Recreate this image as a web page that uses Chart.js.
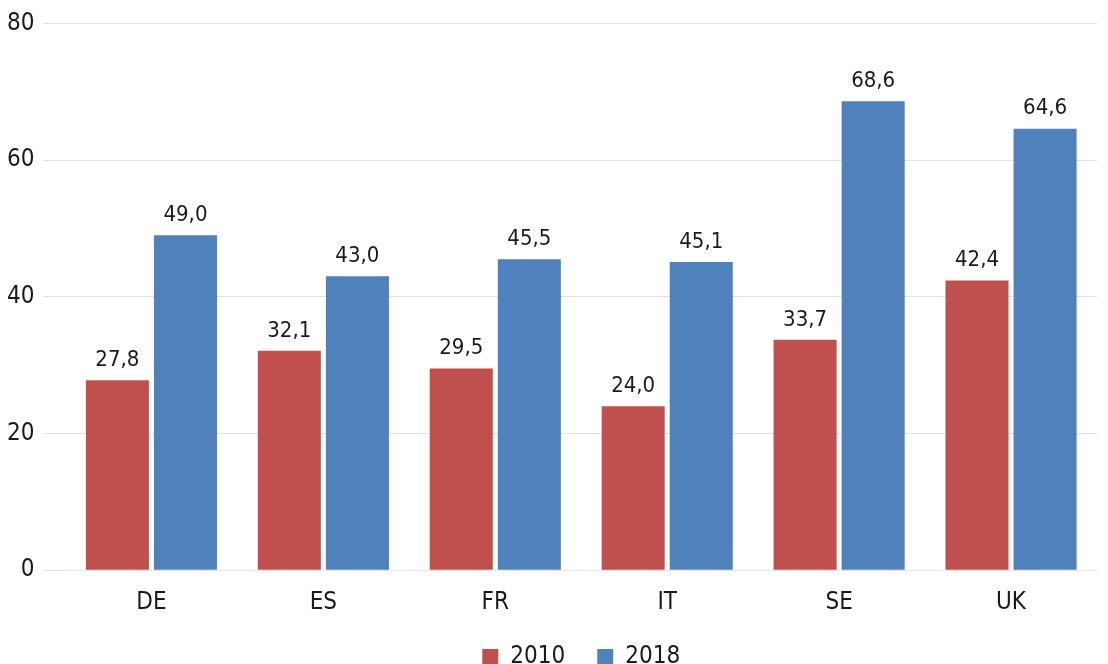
<!DOCTYPE html>
<html>
<head>
<meta charset="utf-8">
<script src="https://cdn.jsdelivr.net/npm/chart.js@4"></script>
<style>
  html, body { margin: 0; padding: 0; background: #fff; }
  #wrap { width: 1108px; height: 664px; }
</style>
</head>
<body>
<div id="wrap"><canvas id="canvas"></canvas></div>
<script>
const countries = ['DE', 'ES', 'FR', 'IT', 'SE', 'UK'];
const values2010 = [27.8, 32.1, 29.5, 24.0, 33.7, 42.4];
const values2018 = [49.0, 43.0, 45.5, 45.1, 68.6, 64.6];
const yTicks = [0, 20, 40, 60, 80];

const fontFamily = '"Liberation Sans Narrow", "DejaVu Sans Condensed", "Roboto", sans-serif';

// labels above each bar, comma decimals
const valueLabels = {
    id: 'valueLabels',
    afterDatasetsDraw(chart) {
        const ctx = chart.ctx;
        ctx.save();
        ctx.font = '22px ' + fontFamily;
        ctx.fillStyle = '#1a1a1a';
        ctx.textAlign = 'center';
        ctx.textBaseline = 'bottom';
        chart.data.datasets.forEach((ds, i) => {
            chart.getDatasetMeta(i).data.forEach((bar, j) => {
                ctx.fillText(ds.data[j].toFixed(1).replace('.', ','), bar.x, bar.y - 9);
            });
        });
        ctx.restore();
    }
};

var ctx = document.getElementById('canvas').getContext('2d');
window.myBar = new Chart(ctx, {
    type: 'bar',
    data: {
        labels: countries,
        datasets: [{
            label: '2010',
            backgroundColor: '#c0504d',
            data: values2010
        },
        {
            label: '2018',
            backgroundColor: '#4f81bd',
            data: values2018
        }]
    },
    options: {
        responsive: true,
        maintainAspectRatio: false,
        animation: false,
        datasets: {
            bar: { categoryPercentage: 0.792, barPercentage: 0.926 }
        },
        layout: { padding: { top: 18, right: 11, left: -2, bottom: -15 } },
        plugins: {
            legend: {
                position: 'bottom',
                fullSize: false,
                labels: {
                    font: { family: fontFamily, size: 24 },
                    color: '#1a1a1a',
                    boxWidth: 16,
                    boxHeight: 16,
                    padding: 32
                }
            },
            tooltip: { enabled: false }
        },
        scales: {
            x: {
                grid: { display: false },
                border: { color: '#e6e6e6' },
                afterFit: axis => { axis.height -= 14; },
                ticks: {
                    font: { family: fontFamily, size: 24 },
                    color: '#1a1a1a',
                    padding: 10
                }
            },
            y: {
                min: 0,
                max: 80,
                border: { display: false },
                grid: { color: '#e0e0e0', tickLength: 22 },
                afterBuildTicks: axis => { axis.ticks = yTicks.map(v => ({ value: v })); },
                ticks: {
                    font: { family: fontFamily, size: 24 },
                    color: '#1a1a1a',
                    padding: 9
                }
            }
        }
    },
    plugins: [valueLabels]
});
</script>
</body>
</html>
